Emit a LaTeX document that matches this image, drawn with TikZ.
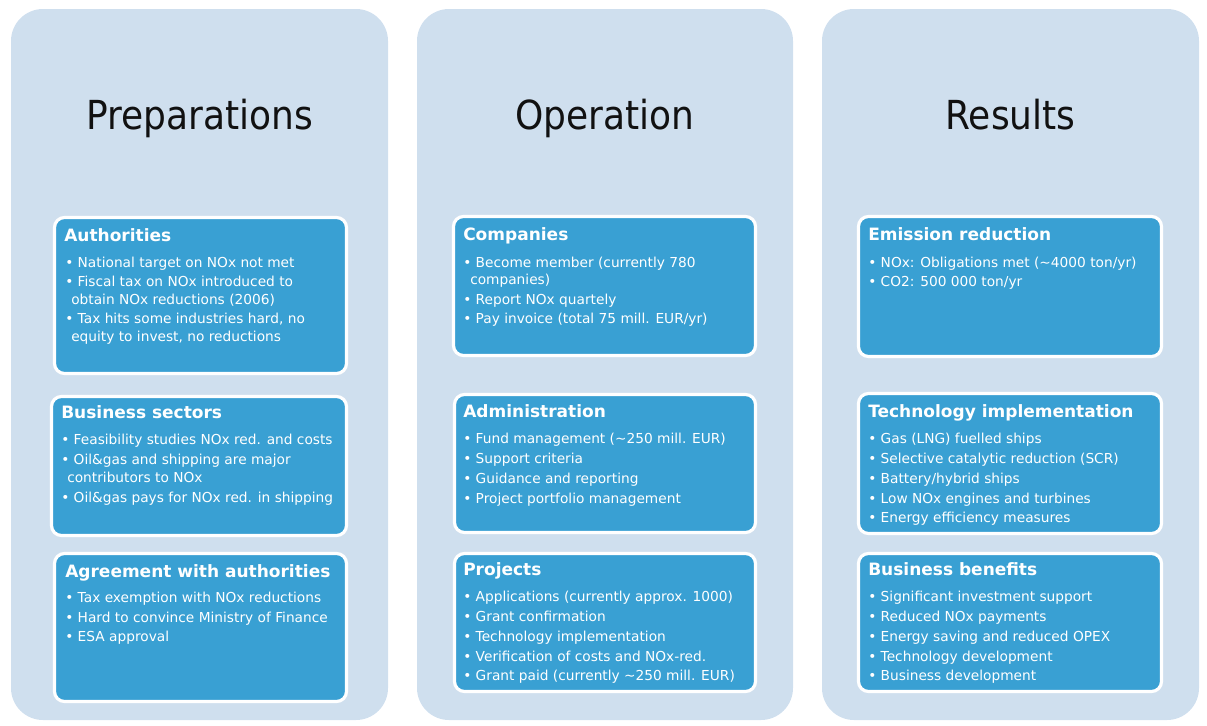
\documentclass[tikz,border=0pt]{standalone}
\usepackage{fontspec}
\setmainfont{DejaVu Sans}
\newfontfamily\titlefont[FakeStretch=0.9]{DejaVu Sans}
\definecolor{panelc}{HTML}{CFDFEE}
\definecolor{boxc}{HTML}{39A0D3}
\definecolor{titlec}{HTML}{111111}
\tikzset{
  panel/.style={fill=panelc, rounded corners=24pt},
  ibox/.style={fill=boxc, draw=white, line width=2.4pt, rounded corners=7.5pt},
  ttl/.style={inner sep=0, anchor=base, font=\titlefont\fontsize{30pt}{36pt}\selectfont, text=titlec},
  hd/.style={inner sep=0, anchor=base west, font=\bfseries\fontsize{12.75pt}{15pt}\selectfont, text=white},
  tx/.style={inner sep=0, anchor=base west, font=\fontsize{10.3pt}{13pt}\selectfont, text=white}
}
\newcommand\bul{\textbullet\ }
\begin{document}
\begin{tikzpicture}[x=0.75pt,y=-0.75pt]
\path[use as bounding box] (0,0) rectangle (1207,725);
% panels
\fill[panel] (11,9) rectangle (388,720);
\fill[panel] (417,9) rectangle (793,720);
\fill[panel] (822,9) rectangle (1199,720);
\node[ttl] (t1) at (199.5,129) {Preparations};
\node[ttl] (t2) at (605,129) {Operation};
\node[ttl] (t3) at (1010.5,129) {Results};
% inner boxes
\draw[ibox] (54.5,217.5) rectangle (346.5,373.5);
\draw[ibox] (51.5,396.5) rectangle (346.5,535.5);
\draw[ibox] (54.5,553.5) rectangle (346.5,701.5);
\draw[ibox] (453.5,216.5) rectangle (755.5,355.5);
\draw[ibox] (454.5,394.5) rectangle (755.5,532.5);
\draw[ibox] (454.5,553.5) rectangle (755.5,691.5);
\draw[ibox] (858.5,216.5) rectangle (1161.5,356.5);
\draw[ibox] (858.5,393.5) rectangle (1161.5,533.5);
\draw[ibox] (858.5,553.5) rectangle (1161.5,691.5);
% Authorities
\node[hd] (ah) at (64,241) {Authorities};
\node[tx] (a1) at (65,267) {\bul National target on NOx not met};
\node[tx] (a2) at (65,286) {\bul Fiscal tax on NOx introduced to};
\node[tx] (a3) at (71,304) {obtain NOx reductions (2006)};
\node[tx] (a4) at (65,323) {\bul Tax hits some industries hard, no};
\node[tx] (a5) at (71,341) {equity to invest, no reductions};
% Business sectors
\node[hd] (bh) at (61,418) {Business sectors};
\node[tx] (b1) at (61,444) {\bul Feasibility studies NOx red. and costs};
\node[tx] (b2) at (61,464) {\bul Oil\&gas and shipping are major};
\node[tx] (b3) at (67,482) {contributors to NOx};
\node[tx] (b4) at (61,502) {\bul Oil\&gas pays for NOx red. in shipping};
% Agreement
\node[hd] (gh) at (65,577) {Agreement with authorities};
\node[tx] (g1) at (65,602) {\bul Tax exemption with NOx reductions};
\node[tx] (g2) at (65,622) {\bul Hard to convince Ministry of Finance};
\node[tx] (g3) at (65,641) {\bul ESA approval};
% Companies
\node[hd] (ch) at (463,240) {Companies};
\node[tx] (c1) at (463,267) {\bul Become member (currently 780};
\node[tx] (c2) at (470,284) {companies)};
\node[tx] (c3) at (463,304) {\bul Report NOx quartely};
\node[tx] (c4) at (463,323) {\bul Pay invoice (total 75 mill. EUR/yr)};
% Administration
\node[hd] (dh) at (463,417) {Administration};
\node[tx] (d1) at (463,443) {\bul Fund management (\textasciitilde250 mill. EUR)};
\node[tx] (d2) at (463,463) {\bul Support criteria};
\node[tx] (d3) at (463,483) {\bul Guidance and reporting};
\node[tx] (d4) at (463,503) {\bul Project portfolio management};
% Projects
\node[hd] (ph) at (463,575) {Projects};
\node[tx] (p1) at (463,601) {\bul Applications (currently approx. 1000)};
\node[tx] (p2) at (463,621) {\bul Grant confirmation};
\node[tx] (p3) at (463,641) {\bul Technology implementation};
\node[tx] (p4) at (463,661) {\bul Verification of costs and NOx-red.};
\node[tx] (p5) at (463,680) {\bul Grant paid (currently \textasciitilde250 mill. EUR)};
% Emission reduction
\node[hd] (eh) at (868,240) {Emission reduction};
\node[tx] (e1) at (868,267) {\bul NOx: Obligations met (\textasciitilde4000 ton/yr)};
\node[tx] (e2) at (868,286) {\bul CO2: 500 000 ton/yr};
% Technology implementation
\node[hd] (th) at (868,417) {Technology implementation};
\node[tx] (m1) at (868,443) {\bul Gas (LNG) fuelled ships};
\node[tx] (m2) at (868,463) {\bul Selective catalytic reduction (SCR)};
\node[tx] (m3) at (868,483) {\bul Battery/hybrid ships};
\node[tx] (m4) at (868,503) {\bul Low NOx engines and turbines};
\node[tx] (m5) at (868,522) {\bul Energy efficiency measures};
% Business benefits
\node[hd] (nh) at (868,575) {Business benefits};
\node[tx] (n1) at (868,601) {\bul Significant investment support};
\node[tx] (n2) at (868,621) {\bul Reduced NOx payments};
\node[tx] (n3) at (868,641) {\bul Energy saving and reduced OPEX};
\node[tx] (n4) at (868,661) {\bul Technology development};
\node[tx] (n5) at (868,680) {\bul Business development};
\end{tikzpicture}
\end{document}
